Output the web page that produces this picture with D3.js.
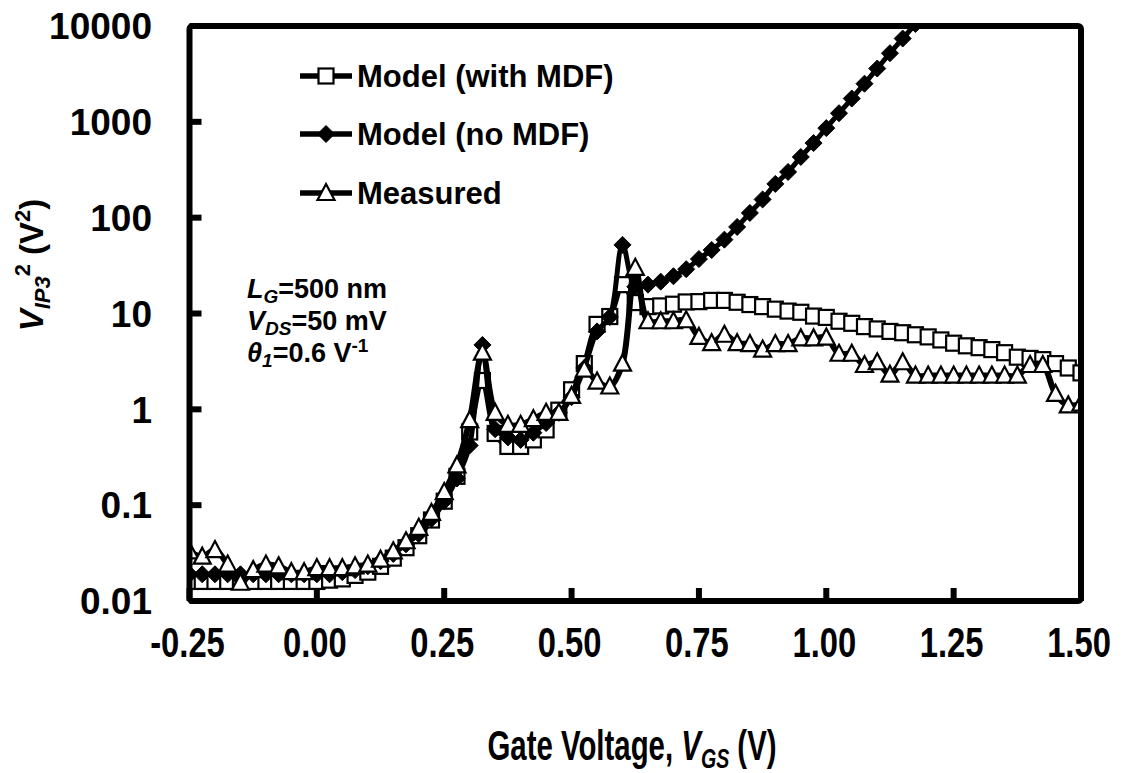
<!DOCTYPE html>
<html>
<head>
<meta charset="utf-8">
<script src="https://cdn.jsdelivr.net/npm/d3@7"></script>
<style>
  html, body { margin: 0; padding: 0; background: #fff; }
  svg { display: block; font-family: "Liberation Sans", Arial, Helvetica, sans-serif; font-weight: bold; }
</style>
</head>
<body>
<svg id="chart" width="1135" height="773"></svg>
<script>
// Gate voltage sweep (V)
const vgs = [
  -0.25, -0.225, -0.2, -0.175, -0.15, -0.125, -0.1, -0.075, -0.05, -0.025,
  0.0, 0.025, 0.05, 0.075, 0.1, 0.125, 0.15, 0.175, 0.2, 0.225,
  0.25, 0.275, 0.3, 0.325, 0.35, 0.375, 0.4, 0.425, 0.45, 0.475,
  0.5, 0.525, 0.55, 0.575, 0.6, 0.625, 0.65, 0.675, 0.7, 0.725,
  0.75, 0.775, 0.8, 0.825, 0.85, 0.875, 0.9, 0.925, 0.95, 0.975,
  1.0, 1.025, 1.05, 1.075, 1.1, 1.125, 1.15, 1.175, 1.2, 1.225,
  1.25, 1.275, 1.3, 1.325, 1.35, 1.375, 1.4, 1.425, 1.45, 1.475, 1.5
];

// V_IP3^2 (V^2), model including mobility degradation
const modelMDF = [
  0.016, 0.016, 0.016, 0.016, 0.016, 0.016, 0.016, 0.016, 0.016, 0.016,
  0.016, 0.0165, 0.017, 0.0185, 0.02, 0.023, 0.028, 0.036, 0.048, 0.07,
  0.11, 0.2, 0.58, 2.0, 0.56, 0.41, 0.41, 0.48, 0.61, 0.98,
  1.6, 3.0, 7.7, 9.3, 20, 13, 11.8, 12, 12.5, 13.2,
  13.3, 13.7, 13.7, 13.1, 12.4, 11.8, 11.1, 10.6, 10.3, 9.4,
  9.1, 8.3, 7.9, 7.3, 6.9, 6.5, 6.3, 6.0, 5.7, 5.3,
  4.9, 4.6, 4.4, 4.2, 3.9, 3.5, 3.4, 3.3, 3.0, 2.7, 2.4
];

// V_IP3^2 (V^2), model without mobility degradation
const modelNoMDF = [
  0.019, 0.019, 0.019, 0.019, 0.019, 0.019, 0.019, 0.019, 0.019, 0.019,
  0.019, 0.019, 0.02, 0.021, 0.023, 0.026, 0.031, 0.039, 0.05, 0.072,
  0.11, 0.19, 0.42, 4.7, 0.62, 0.51, 0.48, 0.57, 0.72, 0.92,
  1.34, 2.7, 6.5, 9.2, 52, 19, 20, 21.5, 24.5, 29,
  37, 46, 59, 80, 112, 155, 225, 300, 430, 600,
  860, 1230, 1750, 2500, 3600, 5200, 7400, 10500
];

// V_IP3^2 (V^2), measured
const measured = [
  0.033, 0.029, 0.034, 0.024, 0.0155, 0.021, 0.024, 0.023, 0.02, 0.02,
  0.022, 0.022, 0.022, 0.023, 0.024, 0.027, 0.033, 0.042, 0.058, 0.083,
  0.137, 0.26, 0.77, 3.9, 0.92, 0.69, 0.69, 0.79, 0.92, 0.92,
  1.38, 2.6, 1.95, 1.73, 3.0, 30, 8.3, 8.3, 8.3, 8.5,
  5.7, 4.9, 6.0, 4.9, 4.8, 4.2, 4.8, 4.8, 5.5, 5.5,
  5.6, 3.8, 3.8, 2.9, 3.1, 2.3, 3.1, 2.25, 2.25, 2.25,
  2.25, 2.25, 2.25, 2.25, 2.25, 2.25, 2.9, 2.9, 1.45, 1.1, 1.15
];

const xTicks = [-0.25, 0.0, 0.25, 0.5, 0.75, 1.0, 1.25, 1.5];
const xTickLabels = ["-0.25", "0.00", "0.25", "0.50", "0.75", "1.00", "1.25", "1.50"];
const yTicks = [0.01, 0.1, 1, 10, 100, 1000, 10000];
const yTickLabels = ["0.01", "0.1", "1", "10", "100", "1000", "10000"];

const seriesNames = ["Model (with MDF)", "Model (no MDF)", "Measured"];

const svg = d3.select("#chart");
const L = 189.5, R = 1081, T = 26, B = 601;

const x = d3.scaleLinear().domain([-0.25, 1.5]).range([L, R]);
const y = d3.scaleLog().domain([0.01, 10000]).range([B, T]);

svg.append("defs").append("clipPath").attr("id", "plotClip")
  .append("rect").attr("x", L).attr("y", T).attr("width", R - L).attr("height", B - T);

const line = d3.line()
  .x(d => x(d[0])).y(d => y(d[1]))
  .curve(d3.curveCatmullRom.alpha(0.5));

const pairs = arr => arr.map((v, i) => [vgs[i], v]);

// marker shapes
function drawMarker(g, type, cx, cy) {
  if (type === "square") {
    g.append("rect").attr("x", cx - 7.5).attr("y", cy - 7.5).attr("width", 15).attr("height", 15)
      .attr("fill", "#fff").attr("stroke", "#000").attr("stroke-width", 2.2);
  } else if (type === "diamond") {
    g.append("path").attr("d", `M${cx},${cy - 8.5}L${cx + 8.5},${cy}L${cx},${cy + 8.5}L${cx - 8.5},${cy}Z`)
      .attr("fill", "#000").attr("stroke", "#000").attr("stroke-width", 1);
  } else {
    g.append("path").attr("d", `M${cx},${cy - 9}L${cx + 8.5},${cy + 7}L${cx - 8.5},${cy + 7}Z`)
      .attr("fill", "#fff").attr("stroke", "#000").attr("stroke-width", 2.2).attr("stroke-linejoin", "miter");
  }
}

const plot = svg.append("g").attr("clip-path", "url(#plotClip)");
const series = [
  { data: modelMDF, marker: "square", width: 5.5 },
  { data: modelNoMDF, marker: "diamond", width: 5 },
  { data: measured, marker: "triangle", width: 6 }
];

series.forEach(s => {
  const g = plot.append("g");
  const pts = pairs(s.data);
  g.append("path").datum(pts).attr("d", line)
    .attr("fill", "none").attr("stroke", "#000").attr("stroke-width", s.width)
    .attr("stroke-linejoin", "round").attr("stroke-linecap", "round");
  pts.forEach(d => drawMarker(g, s.marker, x(d[0]), y(d[1])));
});

// frame
svg.append("rect").attr("x", L).attr("y", T).attr("width", R - L).attr("height", B - T)
  .attr("fill", "none").attr("stroke", "#000").attr("stroke-width", 6).attr("rx", 3);

// ticks (inward)
xTicks.forEach(v => {
  svg.append("line").attr("x1", x(v)).attr("x2", x(v)).attr("y1", B).attr("y2", B - 13)
    .attr("stroke", "#000").attr("stroke-width", 6);
});
yTicks.forEach(v => {
  svg.append("line").attr("x1", L).attr("x2", L + 12).attr("y1", y(v)).attr("y2", y(v))
    .attr("stroke", "#000").attr("stroke-width", 6);
});

// tick labels
yTicks.forEach((v, i) => {
  svg.append("text").attr("x", 152).attr("y", y(v)).attr("dy", "0.36em")
    .attr("text-anchor", "end").attr("font-size", 37).text(yTickLabels[i]);
});
xTicks.forEach((v, i) => {
  svg.append("text").attr("transform", `translate(${x(v) - 2},657) scale(0.78,1)`)
    .attr("text-anchor", "middle").attr("font-size", 42).text(xTickLabels[i]);
});

// axis titles
const xt = svg.append("text").attr("transform", "translate(632,760) scale(0.7,1)")
  .attr("text-anchor", "middle").attr("font-size", 42);
xt.append("tspan").text("Gate Voltage, ");
xt.append("tspan").attr("font-style", "italic").text("V");
xt.append("tspan").attr("font-style", "italic").attr("font-size", 28).attr("dy", 8).text("GS");
xt.append("tspan").attr("dy", -8).text(" (V)");

const yt = svg.append("text").attr("transform", "translate(43,265) rotate(-90)")
  .attr("text-anchor", "middle").attr("font-size", 33);
yt.append("tspan").attr("font-style", "italic").text("V");
yt.append("tspan").attr("font-style", "italic").attr("font-size", 22).attr("dy", 7).text("IP3");
yt.append("tspan").attr("font-size", 22).attr("dy", -20).text("2");
yt.append("tspan").attr("dy", 13).text(" (V");
yt.append("tspan").attr("font-size", 22).attr("dy", -13).text("2");
yt.append("tspan").attr("dy", 13).text(")");

// legend
const legendY = [76, 134, 193];
const legendMarkers = ["square", "diamond", "triangle"];
seriesNames.forEach((name, i) => {
  const g = svg.append("g");
  g.append("line").attr("x1", 300).attr("x2", 352).attr("y1", legendY[i]).attr("y2", legendY[i])
    .attr("stroke", "#000").attr("stroke-width", 5.5);
  drawMarker(g, legendMarkers[i], 326, legendY[i]);
  g.append("text").attr("x", 357).attr("y", legendY[i]).attr("dy", "0.36em")
    .attr("font-size", 31).text(name);
});

// device annotation
const ann = svg.append("g").attr("font-size", 27);
const a1 = ann.append("text").attr("x", 247).attr("y", 298);
a1.append("tspan").attr("font-style", "italic").text("L");
a1.append("tspan").attr("font-style", "italic").attr("font-size", 19).attr("dy", 5).text("G");
a1.append("tspan").attr("dy", -5).text("=500 nm");
const a2 = ann.append("text").attr("x", 247).attr("y", 330);
a2.append("tspan").attr("font-style", "italic").text("V");
a2.append("tspan").attr("font-style", "italic").attr("font-size", 19).attr("dy", 5).text("DS");
a2.append("tspan").attr("dy", -5).text("=50 mV");
const a3 = ann.append("text").attr("x", 247).attr("y", 362);
a3.append("tspan").attr("font-style", "italic").text("θ");
a3.append("tspan").attr("font-style", "italic").attr("font-size", 19).attr("dy", 5).text("1");
a3.append("tspan").attr("dy", -5).text("=0.6 V");
a3.append("tspan").attr("font-size", 19).attr("dy", -10).text("-1");
</script>
</body>
</html>
